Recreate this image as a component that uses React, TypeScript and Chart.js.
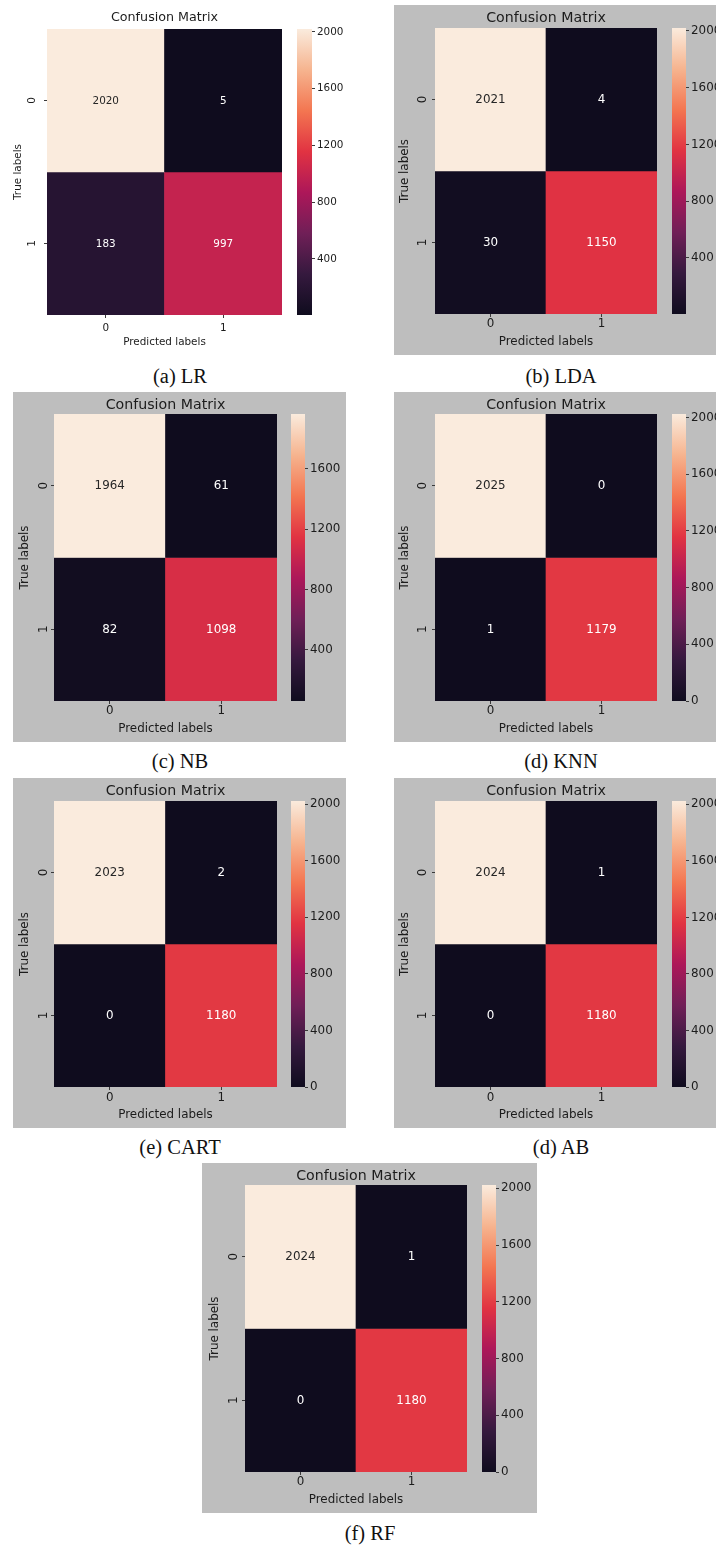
import React, { useEffect, useRef } from "react";
import { Chart, registerables } from "chart.js";

Chart.register(...registerables);

// ---------- data ----------
const captions = ["(a) LR", "(b) LDA", "(c) NB", "(d) KNN", "(e) CART", "(d) AB", "(f) RF"];
const predictedLabels = ["0", "1"];
const trueLabels = ["0", "1"];
const lrMatrix = [[2020, 5], [183, 997]];
const ldaMatrix = [[2021, 4], [30, 1150]];
const nbMatrix = [[1964, 61], [82, 1098]];
const knnMatrix = [[2025, 0], [1, 1179]];
const cartMatrix = [[2023, 2], [0, 1180]];
const abMatrix = [[2024, 1], [0, 1180]];
const rfMatrix = [[2024, 1], [0, 1180]];
const colorbarTicks = [0, 400, 800, 1200, 1600, 2000];
const chartTitle = "Confusion Matrix";
const xAxisTitle = "Predicted labels";
const yAxisTitle = "True labels";

const matrices = [lrMatrix, ldaMatrix, nbMatrix, knnMatrix, cartMatrix, abMatrix, rfMatrix];

// seaborn "rocket" colormap stops
const rocketStops: [number, string][] = [
  [0, "#0f0c1e"],
  [1 / 7, "#35193e"],
  [2 / 7, "#701f57"],
  [3 / 7, "#ad1759"],
  [4 / 7, "#e13342"],
  [5 / 7, "#f37651"],
  [6 / 7, "#f6b48f"],
  [1, "#faebdd"],
];

// ---------- layout (page pixel positions) ----------
type Lay = {
  box: number[]; gray: boolean; heat: number[]; cb: number[];
  titleY: number; xTickY: number; xTitleY: number; yTitleX: number; yTickX: number;
  font: number; titleFont: number; cap: number[];
};
const layouts: Lay[] = [
  { box: [0, 0, 350, 355], gray: false, heat: [47, 29, 282, 315], cb: [297, 312], titleY: 18, xTickY: 328, xTitleY: 342, yTitleX: 18, yTickX: 32, font: 10.4, titleFont: 12.7, cap: [180, 376] },
  { box: [394, 5, 727, 355], gray: true, heat: [435, 28, 657, 314], cb: [672, 686], titleY: 18, xTickY: 324, xTitleY: 342, yTitleX: 405, yTickX: 423, font: 11.9, titleFont: 14.2, cap: [561, 376] },
  { box: [13, 392, 346, 742], gray: true, heat: [54, 414, 277, 701], cb: [291, 305], titleY: 405, xTickY: 711, xTitleY: 729, yTitleX: 25, yTickX: 44, font: 11.9, titleFont: 14.2, cap: [180, 761] },
  { box: [394, 392, 727, 742], gray: true, heat: [435, 414, 657, 701], cb: [672, 686], titleY: 405, xTickY: 711, xTitleY: 729, yTitleX: 405, yTickX: 423, font: 11.9, titleFont: 14.2, cap: [561, 761] },
  { box: [13, 778, 346, 1128], gray: true, heat: [54, 801, 277, 1087], cb: [291, 305], titleY: 791, xTickY: 1098, xTitleY: 1115, yTitleX: 25, yTickX: 44, font: 11.9, titleFont: 14.2, cap: [180, 1147] },
  { box: [394, 778, 727, 1128], gray: true, heat: [435, 801, 657, 1087], cb: [672, 686], titleY: 791, xTickY: 1098, xTitleY: 1115, yTitleX: 405, yTickX: 423, font: 11.9, titleFont: 14.2, cap: [561, 1147] },
  { box: [202, 1163, 537, 1513], gray: true, heat: [245, 1185, 467, 1472], cb: [482, 496], titleY: 1176, xTickY: 1482, xTitleY: 1500, yTitleX: 215, yTickX: 234, font: 11.9, titleFont: 14.2, cap: [370, 1533] },
];

const FONT = '"DejaVu Sans", sans-serif';
const TEXT = "#1c1c1c";
const TICK = "#3a3a3a";

function hexToRgb(h: string) {
  const n = parseInt(h.slice(1), 16);
  return [(n >> 16) & 255, (n >> 8) & 255, n & 255];
}
function rocket(t: number) {
  t = Math.max(0, Math.min(1, t));
  for (let k = 1; k < rocketStops.length; k++) {
    const [p1, c1] = rocketStops[k];
    const [p0, c0] = rocketStops[k - 1];
    if (t <= p1) {
      const f = (t - p0) / (p1 - p0);
      const a = hexToRgb(c0), b = hexToRgb(c1);
      const r = a.map((v, i) => Math.round(v + (b[i] - v) * f));
      return r;
    }
  }
  return hexToRgb(rocketStops[rocketStops.length - 1][1]);
}
function lum(rgb: number[]) {
  const l = rgb.map((v) => {
    const c = v / 255;
    return c <= 0.03928 ? c / 12.92 : Math.pow((c + 0.055) / 1.055, 2.4);
  });
  return 0.2126 * l[0] + 0.7152 * l[1] + 0.0722 * l[2];
}

const heatPlugin = {
  id: "heatDecor",
  afterDatasetsDraw(chart: any, _args: any, opts: any) {
    const { ctx } = chart;
    const xs = chart.scales.x, ys = chart.scales.y, cb = chart.scales.cb, sp = chart.scales.sp;
    ctx.save();
    // colorbar
    const top = cb.getPixelForValue(cb.max);
    const bottom = cb.getPixelForValue(cb.min);
    const x0 = sp.left + opts.cbOffset;
    const x1 = sp.right;
    const g = ctx.createLinearGradient(0, bottom, 0, top);
    rocketStops.forEach(([p, c]) => g.addColorStop(p, c));
    ctx.fillStyle = g;
    ctx.fillRect(x0, top, x1 - x0, bottom - top);
    // annotations
    ctx.font = `${opts.font}px ${FONT}`;
    ctx.textAlign = "center";
    ctx.textBaseline = "middle";
    opts.matrix.forEach((row: number[], i: number) =>
      row.forEach((v: number, j: number) => {
        const x = xs.getPixelForValue(j);
        const y = ys.getPixelForValue(i + 0.5);
        ctx.fillStyle = opts.textColors[i][j];
        ctx.fillText(String(v), x, y + 0.5);
      })
    );
    // rotated y tick labels
    ctx.fillStyle = TEXT;
    trueLabels.forEach((lab, i) => {
      const y = ys.getPixelForValue(i + 0.5);
      ctx.save();
      ctx.translate(opts.yTickX, y);
      ctx.rotate(-Math.PI / 2);
      ctx.fillText(lab, 0, 0);
      ctx.restore();
    });
    ctx.restore();
  },
};

function makeConfig(matrix: number[][], lay: Lay): any {
  const [bx0, by0, bx1, by1] = lay.box;
  const W = bx1 - bx0, H = by1 - by0;
  const L = lay.heat[0] - bx0, T = lay.heat[1] - by0, B = lay.heat[3] - by0;
  const flat = matrix.flat();
  const vmin = Math.min(...flat), vmax = Math.max(...flat);
  const lh = lay.font * 1.2, tlh = lay.titleFont * 1.2;
  const tPadTop = lay.titleY - by0 - tlh / 2;
  const tPadBottom = T - tPadTop - tlh;
  const xTickPad = lay.xTickY - by0 - B - 3 - lh / 2;
  const xH = lay.xTitleY - by0 + lh / 2 - B;
  const padBottom = H - B - xH;
  const yTitlePad = lay.yTitleX - bx0 - lh / 2;
  const spW = lay.cb[1] - lay.heat[2];
  const cbW = bx1 - lay.cb[1];
  const colors = matrix.map((row) => row.map((v) => rocket((v - vmin) / (vmax - vmin))));
  const textColors = colors.map((row) => row.map((c) => (lum(c) > 0.408 ? "#262626" : "#ffffff")));
  const font = { family: FONT, size: lay.font };
  return {
    type: "bar",
    data: {
      labels: predictedLabels,
      datasets: trueLabels.map((_, i) => ({
        label: "True " + trueLabels[i],
        data: predictedLabels.map(() => [i, i + 1]),
        backgroundColor: colors[i].map((c) => `rgb(${c[0]},${c[1]},${c[2]})`),
        borderWidth: 0,
        barPercentage: 1,
        categoryPercentage: 1,
        grouped: false,
        xAxisID: "x",
        yAxisID: "y",
      })),
    },
    options: {
      responsive: false,
      animation: false,
      devicePixelRatio: 1,
      layout: { padding: { left: 0, right: 0, top: 0, bottom: padBottom } },
      plugins: {
        legend: { display: false },
        tooltip: { enabled: false },
        title: {
          display: true,
          text: chartTitle,
          fullSize: false,
          color: TEXT,
          font: { family: FONT, size: lay.titleFont, weight: "normal" },
          padding: { top: tPadTop, bottom: tPadBottom },
        },
        heatDecor: { matrix, textColors, font: lay.font, yTickX: lay.yTickX - bx0, cbOffset: lay.cb[0] - lay.heat[2] },
      },
      scales: {
        x: {
          type: "category",
          position: "bottom",
          offset: true,
          grid: { display: true, drawOnChartArea: false, drawTicks: true, tickLength: 3, offset: false, color: TICK },
          border: { display: false },
          ticks: { color: TEXT, font, padding: xTickPad, minRotation: 0, maxRotation: 0, autoSkip: false },
          title: { display: true, text: xAxisTitle, color: TEXT, font, padding: { top: 0, bottom: 0 } },
          afterFit: (s: any) => { s.height = xH; },
        },
        y: {
          type: "linear",
          position: "left",
          min: 0,
          max: 2,
          reverse: true,
          afterBuildTicks: (s: any) => { s.ticks = trueLabels.map((_, i) => ({ value: i + 0.5 })); },
          grid: { display: true, drawOnChartArea: false, drawTicks: true, tickLength: 3, color: TICK },
          border: { display: false },
          ticks: { display: false },
          title: { display: true, text: yAxisTitle, color: TEXT, font, padding: { top: yTitlePad, bottom: 0 } },
          afterFit: (s: any) => { s.width = L; },
        },
        sp: {
          type: "linear",
          position: "right",
          weight: 0,
          display: true,
          min: 0,
          max: 1,
          grid: { display: false },
          border: { display: false },
          ticks: { display: false },
          afterFit: (s: any) => { s.width = spW; },
        },
        cb: {
          type: "linear",
          position: "right",
          weight: 1,
          display: true,
          min: vmin,
          max: vmax,
          afterBuildTicks: (s: any) => {
            s.ticks = colorbarTicks.filter((v) => v >= vmin && v <= vmax).map((v) => ({ value: v }));
          },
          grid: { display: true, drawOnChartArea: false, drawTicks: true, tickLength: 3, color: TICK },
          border: { display: false },
          ticks: { color: TEXT, font, padding: 2, callback: (v: any) => String(v) },
          afterFit: (s: any) => { s.width = cbW; },
        },
      },
    },
    plugins: [heatPlugin],
  };
}

function Panel({ matrix, lay }: { matrix: number[][]; lay: Lay }) {
  const ref = useRef<HTMLCanvasElement | null>(null);
  const [bx0, by0, bx1, by1] = lay.box;
  const W = bx1 - bx0, H = by1 - by0;
  useEffect(() => {
    if (!ref.current) return;
    const chart = new Chart(ref.current, makeConfig(matrix, lay));
    return () => chart.destroy();
  }, []);
  return (
    <div style={{ position: "absolute", left: bx0, top: by0, width: W, height: H, background: lay.gray ? "#bebebe" : "transparent" }}>
      <canvas ref={ref} width={W} height={H} style={{ display: "block", width: W, height: H }} />
    </div>
  );
}

export default function App() {
  return (
    <div style={{ position: "absolute", left: 0, top: 0, width: 716, height: 1547, overflow: "hidden", background: "#ffffff" }}>
      {matrices.map((m, i) => (
        <Panel key={i} matrix={m} lay={layouts[i]} />
      ))}
      {captions.map((c, i) => (
        <div
          key={"c" + i}
          style={{
            position: "absolute",
            left: layouts[i].cap[0] - 100,
            top: layouts[i].cap[1] - 13,
            width: 200,
            height: 26,
            lineHeight: "26px",
            textAlign: "center",
            fontFamily: '"Liberation Serif", "Times New Roman", serif',
            fontSize: 20.5,
            color: "#111111",
          }}
        >
          {c}
        </div>
      ))}
    </div>
  );
}
